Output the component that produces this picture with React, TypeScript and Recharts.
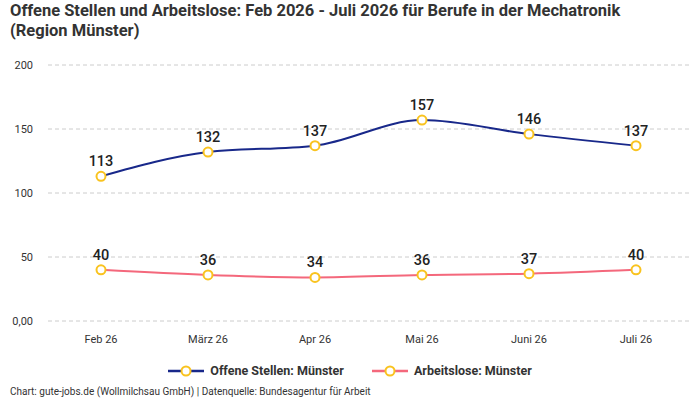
import React from "react";
import { LineChart, Line, XAxis, YAxis, CartesianGrid, LabelList } from "recharts";

const categories = ["Feb 26", "März 26", "Apr 26", "Mai 26", "Juni 26", "Juli 26"];
const offeneStellen = [113, 132, 137, 157, 146, 137];
const arbeitslose = [40, 36, 34, 36, 37, 40];
const yTicks = [0, 50, 100, 150, 200];

const data = categories.map((c, i) => ({ name: c, offen: offeneStellen[i], arbeitslos: arbeitslose[i] }));

const BLUE = "#18288a";
const PINK = "#f4687c";
const DOT = "#f9c31f";
const FONT = "Roboto, 'Noto Sans', sans-serif";

const dotProps = { r: 4.5, fill: "#ffffff", stroke: DOT, strokeWidth: 2 };

const LegendItem = ({ color, label }: { color: string; label: string }) => (
  <div style={{ display: "flex", alignItems: "center", marginRight: 28 }}>
    <svg width={36} height={14} style={{ marginRight: 6 }}>
      <line x1={0} y1={7} x2={36} y2={7} stroke={color} strokeWidth={2.5} />
      <circle cx={18} cy={7} r={4.5} fill="#fff" stroke={DOT} strokeWidth={2} />
    </svg>
    <span style={{ fontWeight: 700, fontSize: 12.5, color: "#333" }}>{label}</span>
  </div>
);

export default function App() {
  return (
    <div style={{ position: "absolute", left: 0, top: 0, width: 700, height: 400, background: "#fff", fontFamily: FONT }}>
      <div style={{ position: "absolute", left: 10, top: 1, fontSize: 16.5, fontWeight: 700, color: "#333", lineHeight: "20px", width: 690 }}>
        Offene Stellen und Arbeitslose: Feb 2026 - Juli 2026 für Berufe in der Mechatronik
        <br />
        (Region Münster)
      </div>
      <LineChart width={700} height={400} data={data} margin={{ top: 65, right: 10, bottom: 49, left: 0 }} style={{ position: "absolute", left: 0, top: 0 }}>
        <CartesianGrid vertical={false} stroke="#cccccc" strokeDasharray="4 3" />
        <XAxis dataKey="name" axisLine={false} tickLine={false} height={30} padding={{ left: 53, right: 54 }}
          tick={{ fontSize: 11, fill: "#333", fontFamily: FONT }} tickMargin={8} />
        <YAxis width={48} domain={[0, 200]} ticks={yTicks} axisLine={false} tickLine={false} tickSize={0} tickMargin={15}
          tickFormatter={(v: number) => (v === 0 ? "0,00" : String(v))}
          tick={{ fontSize: 11, fill: "#333", fontFamily: FONT }} />
        <Line type="monotone" dataKey="offen" stroke={BLUE} strokeWidth={2} dot={dotProps} activeDot={false} isAnimationActive={false}>
          <LabelList dataKey="offen" position="top" offset={10} style={{ fontSize: 14.5, fontWeight: 500, fill: "#222", fontFamily: FONT }} />
        </Line>
        <Line type="monotone" dataKey="arbeitslos" stroke={PINK} strokeWidth={2} dot={dotProps} activeDot={false} isAnimationActive={false}>
          <LabelList dataKey="arbeitslos" position="top" offset={10} style={{ fontSize: 14.5, fontWeight: 500, fill: "#222", fontFamily: FONT }} />
        </Line>
      </LineChart>
      <div style={{ position: "absolute", top: 363, left: 0, width: 700, display: "flex", justifyContent: "center", paddingLeft: 28, boxSizing: "border-box" }}>
        <LegendItem color={BLUE} label="Offene Stellen: Münster" />
        <LegendItem color={PINK} label="Arbeitslose: Münster" />
      </div>
      <div style={{ position: "absolute", left: 10, top: 386, fontSize: 10, color: "#333" }}>
        Chart: gute-jobs.de (Wollmilchsau GmbH) | Datenquelle: Bundesagentur für Arbeit
      </div>
    </div>
  );
}
